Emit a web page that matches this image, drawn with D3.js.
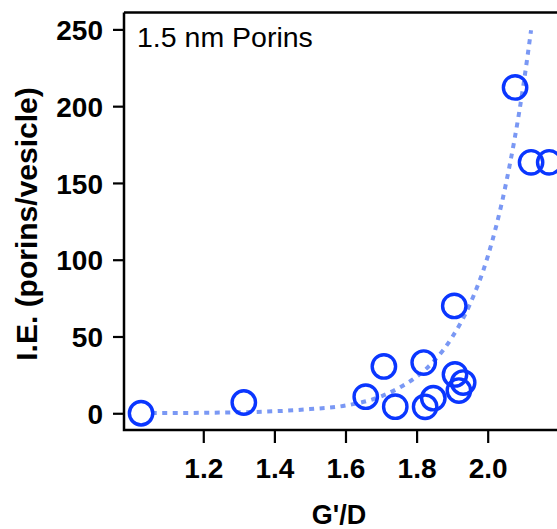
<!DOCTYPE html>
<html>
<head>
<meta charset="utf-8">
<script src="https://cdn.jsdelivr.net/npm/d3@7"></script>
<style>
  html, body { margin: 0; padding: 0; background: #fff; }
  svg { display: block; }
  text { font-family: "Liberation Sans", Arial, Helvetica, sans-serif; }
</style>
</head>
<body>
<svg id="chart" width="557" height="529"></svg>
<script>
// Measured G'/D ratio and insertion efficiency for each vesicle batch
const gdRatio = [1.025, 1.314, 1.657, 1.708, 1.740, 1.820, 1.824, 1.847, 1.906, 1.908, 1.919, 1.931, 2.077, 2.122, 2.173];
const ieValues = [0, 7, 10.8, 30.5, 4.3, 33, 4.2, 9.8, 69.9, 25.3, 14.8, 20, 212.2, 163.4, 163.4];

// Exponential trend line, sampled along G'/D
const fitX = [1.055, 1.2, 1.4, 1.5, 1.6, 1.7, 1.75, 1.8, 1.85, 1.9, 1.95, 2.0, 2.05, 2.1, 2.122];
const fitY = [0.1, 0.3, 1.3, 2.7, 5, 11, 16.5, 23.8, 34.3, 49.5, 71, 102, 148, 213, 249.5];

const xTicks = [1.2, 1.4, 1.6, 1.8, 2.0];
const yTicks = [0, 50, 100, 150, 200, 250];

const xTitle = "G'/D";
const yTitle = "I.E. (porins/vesicle)";
const panelLabel = "1.5 nm Porins";

const svg = d3.select("#chart");
const plotLeft = 124, plotRight = 558.8, plotTop = 12.5, plotBottom = 430;

const x = d3.scaleLinear().domain([0.977, 2.2]).range([plotLeft, plotRight]);
const y = d3.scaleLinear().domain([-10.9, 261]).range([plotBottom, plotTop]);

const pointColor = "#0a36ff";
const fitColor = "#7a98f4";

// trend line
const line = d3.line()
  .x((d, i) => x(fitX[i]))
  .y((d, i) => y(fitY[i]))
  .curve(d3.curveMonotoneX);

svg.append("path")
  .datum(fitX)
  .attr("d", line)
  .attr("fill", "none")
  .attr("stroke", fitColor)
  .attr("stroke-width", 4)
  .attr("stroke-dasharray", "5,5.5");

// data points
svg.append("g")
  .selectAll("circle")
  .data(gdRatio)
  .join("circle")
  .attr("cx", d => x(d))
  .attr("cy", (d, i) => y(ieValues[i]))
  .attr("r", 11.7)
  .attr("fill", "none")
  .attr("stroke", pointColor)
  .attr("stroke-width", 3.4);

// axes
const yAxis = d3.axisLeft(y)
  .tickValues(yTicks)
  .tickSize(11)
  .tickPadding(10)
  .tickFormat(d3.format("d"));

const xAxis = d3.axisBottom(x)
  .tickValues(xTicks)
  .tickSize(13)
  .tickPadding(15)
  .tickFormat(d3.format(".1f"));

const gy = svg.append("g")
  .attr("transform", `translate(${plotLeft},0)`)
  .call(yAxis);
const gx = svg.append("g")
  .attr("transform", `translate(0,${plotBottom})`)
  .call(xAxis);

[gx, gy].forEach(g => {
  g.select(".domain").remove();
  g.selectAll(".tick line").attr("stroke", "#000").attr("stroke-width", 2.2);
  g.selectAll(".tick text")
    .attr("fill", "#000")
    .style("font-size", "28px")
    .style("font-weight", "bold");
});
gy.selectAll(".tick text").attr("dy", "0.36em");
gx.selectAll(".tick text").attr("dy", "0.72em");

// frame: left, bottom and top edges
svg.append("path")
  .attr("d", `M${plotLeft},${plotTop}H557M${plotLeft},${plotTop}V${plotBottom}H557`)
  .attr("fill", "none")
  .attr("stroke", "#000")
  .attr("stroke-width", 2.5);

// titles
svg.append("text")
  .attr("x", 339)
  .attr("y", 524)
  .attr("text-anchor", "middle")
  .style("font-size", "27px")
  .style("font-weight", "bold")
  .text(xTitle);

svg.append("text")
  .attr("transform", `translate(37,224) rotate(-90)`)
  .attr("text-anchor", "middle")
  .style("font-size", "30px")
  .style("font-weight", "bold")
  .text(yTitle);

svg.append("text")
  .attr("x", 137)
  .attr("y", 47)
  .style("font-size", "28.5px")
  .text(panelLabel);
</script>
</body>
</html>
